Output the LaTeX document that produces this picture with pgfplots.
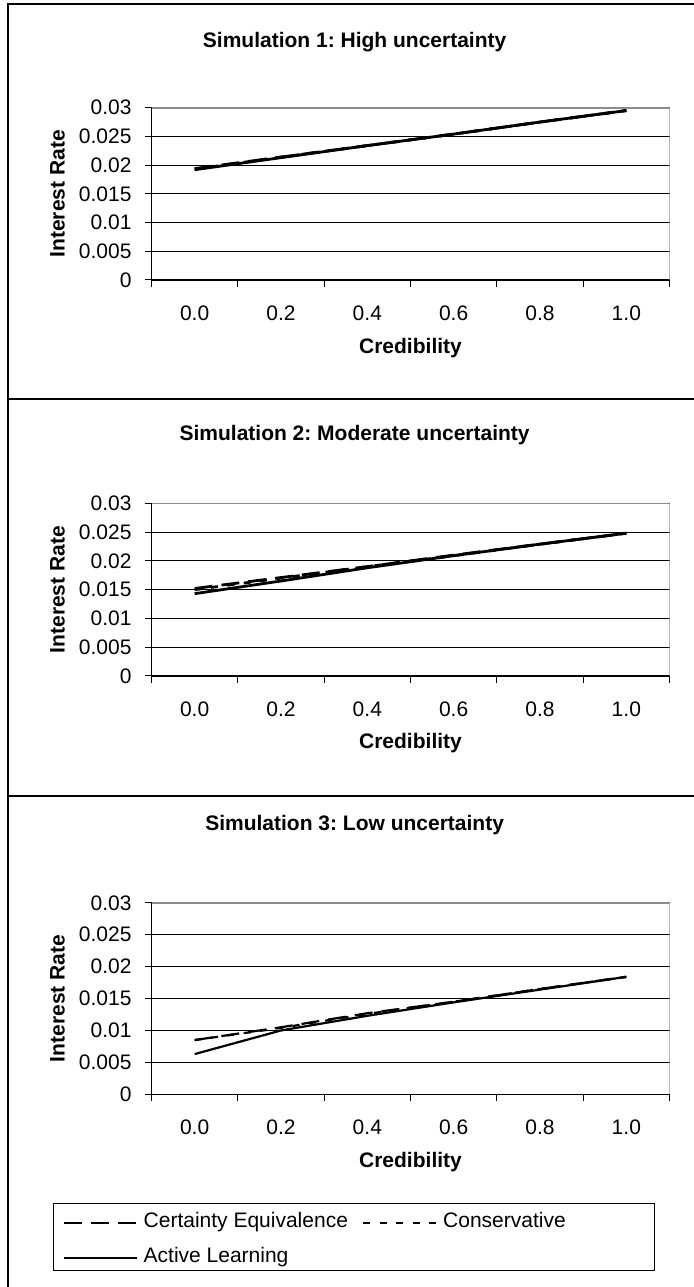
\documentclass[border=0pt]{standalone}
\usepackage{fontspec}
\setmainfont{Liberation Sans}
\usepackage{pgfplots}
\usepackage{pgfplotstable}
\pgfplotsset{compat=1.18}
\frenchspacing

\pgfplotstableread{
x ce cons al
0 0.0194 0.0193 0.0192
1 0.0214 0.0214 0.0213
2 0.0234 0.0234 0.0234
3 0.0254 0.0254 0.0254
4 0.0275 0.0275 0.0275
5 0.0295 0.0295 0.0295
}\simone

\pgfplotstableread{
x ce cons al
0 0.0152 0.0150 0.0143
1 0.0171 0.0170 0.0165
2 0.0190 0.0190 0.0188
3 0.0210 0.0209 0.0209
4 0.0229 0.0229 0.0229
5 0.0248 0.0248 0.0248
}\simtwo

\pgfplotstableread{
x ce cons al
0 0.0085 0.0085 0.0063
1 0.0105 0.0104 0.0100
2 0.0127 0.0126 0.0123
3 0.0145 0.0145 0.0144
4 0.0165 0.0165 0.0164
5 0.0184 0.0184 0.0184
}\simthree

\newcommand{\chartfont}{\fontsize{21}{25}\selectfont}

\pgfplotsset{
  panel/.style={
    scale only axis,
    width=518pt,
    xmin=-0.5, xmax=5.5, ymin=0, ymax=0.03,
    scaled y ticks=false,
    axis x line*=bottom, axis y line*=left,
    axis line style={-, black, line width=1pt},
    xtick={0,1,2,3,4,5},
    xticklabels={0.0,0.2,0.4,0.6,0.8,1.0},
    minor xtick={-0.5,0.5,1.5,2.5,3.5,4.5,5.5},
    ytick={0,0.005,0.01,0.015,0.02,0.025,0.03},
    yticklabels={0,0.005,0.01,0.015,0.02,0.025,0.03},
    tick align=outside,
    major tick length=7pt, minor tick length=7pt,
    tick style={black, line width=1pt},
    major x tick style={draw=none},
    ymajorgrids,
    grid style={black, line width=0.8pt},
    ticklabel style={font=\chartfont},
    yticklabel style={anchor=east, xshift=-9.5pt},
    xticklabel style={anchor=north, yshift=-15pt},
    xlabel={Credibility},
    ylabel={Interest Rate},
    every axis y label/.style={at={(axis description cs:-0.1815,0.5)}, rotate=90, anchor=center, font=\chartfont\bfseries},
    every axis plot/.append style={black, line width=2.8pt},
    ce/.style={dash pattern=on 18pt off 9pt},
    cons/.style={dash pattern=on 7pt off 9.5pt},
    al/.style={solid},
  }
}

\begin{document}
\begin{tikzpicture}[x=1pt,y=1pt]
\useasboundingbox (0pt,0pt) rectangle (693pt,1287pt);
\fill[white] (0pt,0pt) rectangle (693pt,1287pt);
% panel frames
\draw[black, line width=1.5pt] (700pt,1283pt) -- (8pt,1283pt) -- (8pt,-5pt);
\draw[black, line width=1.5pt] (8pt,888pt) -- (700pt,888pt);
\draw[black, line width=1.5pt] (8pt,491pt) -- (700pt,491pt);
% titles
\node[font=\chartfont\bfseries] at (354.6pt,1245pt) {Simulation 1: High uncertainty};
\node[font=\chartfont\bfseries] at (354.6pt,852pt) {Simulation 2: Moderate uncertainty};
\node[font=\chartfont\bfseries] at (354.6pt,462pt) {Simulation 3: Low uncertainty};

\begin{axis}[panel, height=172.3pt, at={(151.5pt,1007pt)}, anchor=south west,
  every axis x label/.style={at={(axis description cs:0.5,-0.394)}, anchor=center, font=\chartfont\bfseries}]
\addplot[ce] table[x=x,y=ce] {\simone};
\addplot[cons] table[x=x,y=cons] {\simone};
\addplot[al] table[x=x,y=al] {\simone};
\draw[gray!90, line width=2pt] (rel axis cs:0,1) -- (rel axis cs:1,1) -- (rel axis cs:1,0);
\end{axis}

\begin{axis}[panel, height=172.7pt, at={(151.5pt,611pt)}, anchor=south west,
  every axis x label/.style={at={(axis description cs:0.5,-0.388)}, anchor=center, font=\chartfont\bfseries}]
\addplot[ce] table[x=x,y=ce] {\simtwo};
\addplot[cons] table[x=x,y=cons] {\simtwo};
\addplot[al] table[x=x,y=al] {\simtwo};
\draw[gray!90, line width=2pt] (rel axis cs:0,1) -- (rel axis cs:1,1) -- (rel axis cs:1,0);
\end{axis}

\begin{axis}[panel, height=191.5pt, at={(151.5pt,192.7pt)}, anchor=south west,
  every axis x label/.style={at={(axis description cs:0.5,-0.3526)}, anchor=center, font=\chartfont\bfseries},
  legend columns=2,
  legend cell align=left,
  legend image code/.code={\draw[#1] (0pt,0pt) -- (73pt,0pt);},
  legend style={draw=none, fill=none, inner sep=0pt, outer sep=0pt,
    at={(axis description cs:-0.1718,-0.6182)}, anchor=north west,
    font=\chartfont,
    nodes={inner sep=0pt, text height=15pt, text depth=5pt},
    row sep=15pt,
    /tikz/every odd column/.append style={column sep=6pt},
    /tikz/every even column/.append style={column sep=14pt}},
]
\addplot[ce, line width=2.2pt] table[x=x,y=ce] {\simthree};
\addlegendentry{Certainty Equivalence}
\addplot[cons, line width=2.2pt] table[x=x,y=cons] {\simthree};
\addlegendentry{Conservative}
\addplot[al, line width=2.2pt] table[x=x,y=al] {\simthree};
\addlegendentry{Active Learning}
\draw[gray!90, line width=2pt] (rel axis cs:0,1) -- (rel axis cs:1,1) -- (rel axis cs:1,0);
\end{axis}
\draw[black, line width=1pt] (53pt,16pt) rectangle (654pt,83pt);
\end{tikzpicture}
\end{document}
